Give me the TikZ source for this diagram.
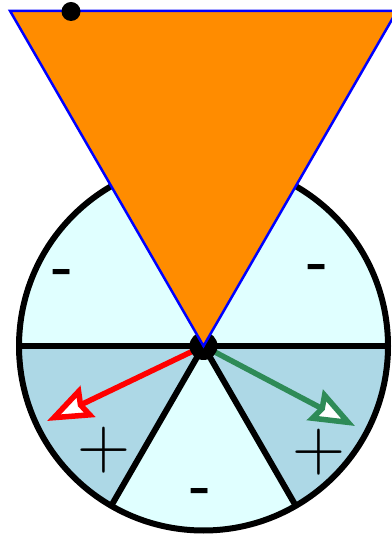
\documentclass[tikz,border=0pt]{standalone}
\usepackage{tikz}
\usetikzlibrary{arrows.meta}
\begin{document}
\begin{tikzpicture}[x=1pt, y=1pt]
\definecolor{wedgecyan}{RGB}{224,255,255}
\definecolor{wedgeblue}{RGB}{173,216,230}
\definecolor{coneorange}{RGB}{255,140,0}
\definecolor{vecgreen}{RGB}{46,139,87}
\tikzset{wedge line/.style={line width=6pt},
  sign/.style={inner sep=0pt, font=\fontsize{73.5}{80}\selectfont},
  minus sign/.style={inner sep=0pt, font=\fontsize{56}{60}\selectfont\bfseries},
  vec/.style={-{Stealth[length=45pt, width=34pt, inset=5pt, fill=white, line width=5.5pt]}, line width=5.5pt}}
\useasboundingbox (0,0) rectangle (391,535);
\coordinate (c) at (203.5,189);
% Wheel: six wedges
\foreach \a/\col in {0/wedgecyan, 60/wedgecyan, 120/wedgecyan, 180/wedgeblue, 240/wedgecyan, 300/wedgeblue} {
    \fill[\col] (c) -- ++(\a:184.5pt) arc[start angle=\a, delta angle=60, radius=184.5pt] -- cycle;
}
\foreach \a in {0, 180, 240, 300} {
    \draw[wedge line] (c) -- ++(\a:184.5pt);
}
\draw[wedge line] (c) circle[radius=184.5pt];
% Signs
\node[minus sign] (minusA) at (63,258) {-};
\node[minus sign] (minusB) at (318,263) {-};
\node[minus sign] (minusC) at (201,39.5) {-};
\node[sign] (plusA) at (103.5,85) {+};
\node[sign] (plusB) at (318.5,83) {+};
% Vectors
\coordinate (redtip) at (47,114);
\coordinate (greentip) at (355,109);
\draw[vec, red] (c) -- (redtip);
\draw[vec, vecgreen] (c) -- (greentip);
\fill (c) circle[radius=14pt];
% Cone
\coordinate (topL) at (10.1,524);
\coordinate (topR) at (396.9,524);
\draw[fill=coneorange, draw=blue, line width=2.5pt] (c) -- (topL) -- (topR) -- cycle;
\fill (71,523.5) circle[radius=9.5pt];
\end{tikzpicture}
\end{document}
